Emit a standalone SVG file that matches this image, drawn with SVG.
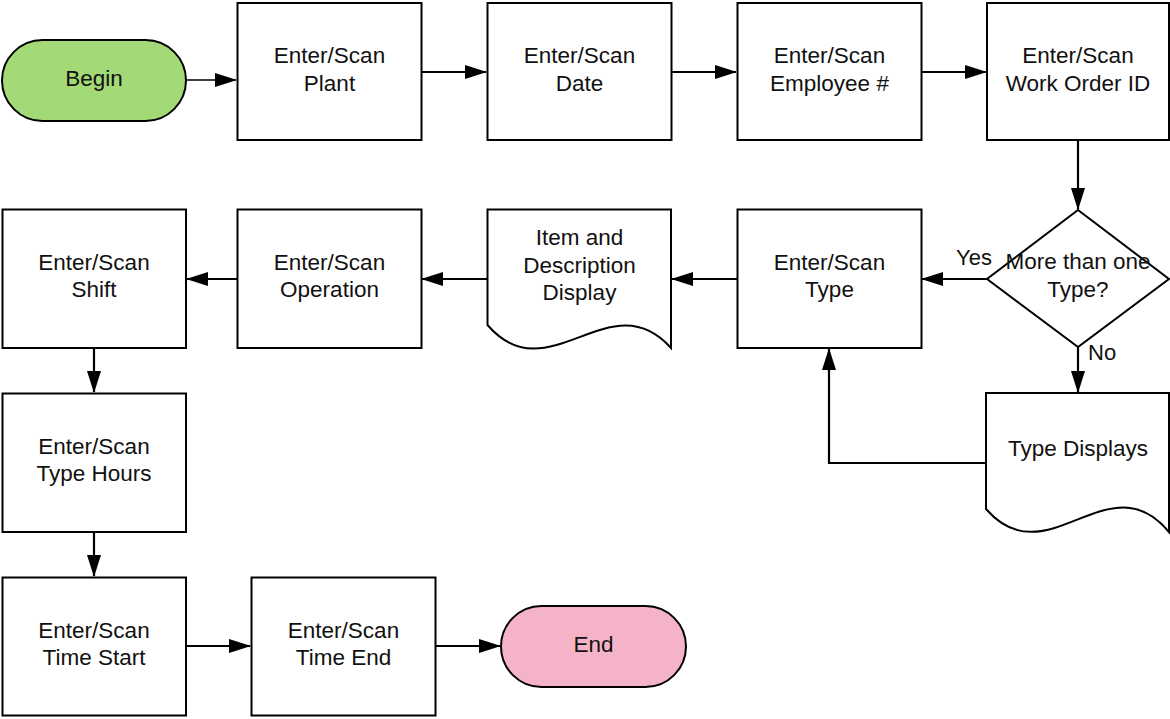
<svg xmlns="http://www.w3.org/2000/svg" width="1170" height="719" viewBox="0 0 1170 719">
<defs>
<style>
.box{fill:#fff;stroke:#000;stroke-width:2}
.t{font-family:"Liberation Sans",Arial,sans-serif;font-size:22.5px;fill:#111;text-anchor:middle}
.lbl{font-family:"Liberation Sans",Arial,sans-serif;font-size:22px;fill:#111}
.c{fill:none;stroke:#000;stroke-width:2.2}
</style>
<marker id="ah" markerUnits="userSpaceOnUse" markerWidth="22" markerHeight="14" refX="21" refY="7" orient="auto">
<path d="M0,0 L22,7 L0,14 Z" fill="#000"/>
</marker>
</defs>
<rect width="1170" height="719" fill="#fff"/>
<g id="connectors">
<path class="c" d="M186,80 H236" marker-end="url(#ah)" style="stroke-width:1.6"/>
<path class="c" d="M421.5,72 H486" marker-end="url(#ah)"/>
<path class="c" d="M671.5,72 H736" marker-end="url(#ah)"/>
<path class="c" d="M921.5,72 H986" marker-end="url(#ah)"/>
<path class="c" d="M1078,140 V209" marker-end="url(#ah)"/>
<path class="c" d="M987,279 H922" marker-end="url(#ah)"/>
<path class="c" d="M1078,347 V392" marker-end="url(#ah)"/>
<path class="c" d="M986,463 H829 V349" marker-end="url(#ah)"/>
<path class="c" d="M737.5,279 H672" marker-end="url(#ah)"/>
<path class="c" d="M487.5,279 H422" marker-end="url(#ah)"/>
<path class="c" d="M237.5,279 H187" marker-end="url(#ah)"/>
<path class="c" d="M94,348 V392" marker-end="url(#ah)"/>
<path class="c" d="M94,532 V576" marker-end="url(#ah)"/>
<path class="c" d="M186,646 H250" marker-end="url(#ah)"/>
<path class="c" d="M436,646 H500" marker-end="url(#ah)"/>
<text class="lbl" x="956" y="265">Yes</text>
<text class="lbl" x="1088" y="360">No</text>
</g>
<g id="begin">
<rect x="2" y="40" width="184" height="81" rx="40.5" fill="#a3d977" stroke="#000" stroke-width="2"/>
<text class="t" x="94" y="86">Begin</text>
</g>
<g id="plant">
<rect class="box" x="237.5" y="3" width="184" height="137"/>
<text class="t" x="329.5" y="63">Enter/Scan</text>
<text class="t" x="329.5" y="90.5">Plant</text>
</g>
<g id="date">
<rect class="box" x="487.5" y="3" width="184" height="137"/>
<text class="t" x="579.5" y="63">Enter/Scan</text>
<text class="t" x="579.5" y="90.5">Date</text>
</g>
<g id="employee">
<rect class="box" x="737.5" y="3" width="184" height="137"/>
<text class="t" x="829.5" y="63">Enter/Scan</text>
<text class="t" x="829.5" y="90.5">Employee #</text>
</g>
<g id="workorder">
<rect class="box" x="987" y="3" width="182" height="137"/>
<text class="t" x="1078" y="63">Enter/Scan</text>
<text class="t" x="1078" y="90.5">Work Order ID</text>
</g>
<g id="decision">
<path class="box" d="M1078,210 L1169,279 L1078,347 L987,279 Z"/>
<text class="t" x="1078" y="269">More than one</text>
<text class="t" x="1078" y="296.5">Type?</text>
</g>
<g id="type">
<rect class="box" x="737.5" y="209.5" width="184" height="138.5"/>
<text class="t" x="829.5" y="270">Enter/Scan</text>
<text class="t" x="829.5" y="297">Type</text>
</g>
<g id="typedisplays">
<path class="box" d="M986,393 H1169 V532 C1109,459 1047,579 986,509 Z"/>
<text class="t" x="1078" y="456">Type Displays</text>
</g>
<g id="itemdesc">
<path class="box" d="M487.5,209.5 H671 V348 C610,280 548,395 487.5,325 Z"/>
<text class="t" x="579.5" y="245">Item and</text>
<text class="t" x="579.5" y="272.5">Description</text>
<text class="t" x="579.5" y="299.5">Display</text>
</g>
<g id="operation">
<rect class="box" x="237.5" y="209.5" width="184" height="138.5"/>
<text class="t" x="329.5" y="270">Enter/Scan</text>
<text class="t" x="329.5" y="297">Operation</text>
</g>
<g id="shift">
<rect class="box" x="2.5" y="209.5" width="183.5" height="138.5"/>
<text class="t" x="94" y="270">Enter/Scan</text>
<text class="t" x="94" y="297">Shift</text>
</g>
<g id="typehours">
<rect class="box" x="2.5" y="393.5" width="183.5" height="138.5"/>
<text class="t" x="94" y="454">Enter/Scan</text>
<text class="t" x="94" y="481">Type Hours</text>
</g>
<g id="timestart">
<rect class="box" x="2.5" y="577.5" width="183.5" height="138"/>
<text class="t" x="94" y="638">Enter/Scan</text>
<text class="t" x="94" y="665">Time Start</text>
</g>
<g id="timeend">
<rect class="box" x="251.5" y="577.5" width="184" height="138"/>
<text class="t" x="343.5" y="638">Enter/Scan</text>
<text class="t" x="343.5" y="665">Time End</text>
</g>
<g id="end">
<rect x="501" y="606" width="185" height="81" rx="40.5" fill="#f4b3c6" stroke="#000" stroke-width="2"/>
<text class="t" x="593.5" y="652">End</text>
</g>
</svg>
